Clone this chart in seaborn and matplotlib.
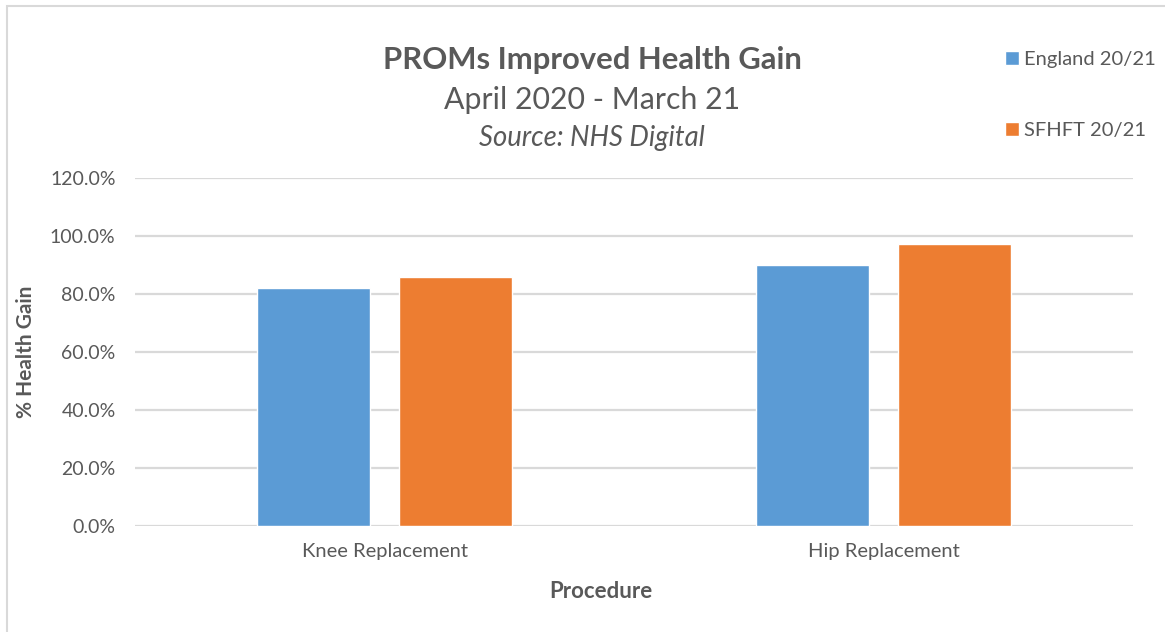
import matplotlib
matplotlib.use('Agg')
import matplotlib.pyplot as plt
from matplotlib.patches import Rectangle
from matplotlib.ticker import PercentFormatter
import pandas as pd
import seaborn as sns

# values (% health gain)
procedures = ["Knee Replacement", "Hip Replacement"]
series = ["England 20/21", "SFHFT 20/21"]
england = [82.0, 90.0]
sfhft = [86.0, 97.2]
colors = ["#5b9bd5", "#ed7d31"]

df = pd.DataFrame({
    "Procedure": procedures * 2,
    "Series": [series[0]] * 2 + [series[1]] * 2,
    "Gain": england + sfhft,
})

sns.set_style("white")
plt.rcParams['font.family'] = ['Lato', 'DejaVu Sans']
grey = "#595959"

fig = plt.figure(figsize=(11.65, 6.32), dpi=100)
ax = fig.add_axes([135 / 1165, 1 - 526 / 632, (1133 - 135) / 1165, (526 - 178) / 632])

sns.barplot(data=df, x="Procedure", y="Gain", hue="Series", order=procedures,
            hue_order=series, palette=colors, width=0.571, gap=0.207,
            saturation=1, ax=ax, legend=True)

ax.set_ylim(0, 120)
ax.set_yticks(range(0, 121, 20))
ax.yaxis.set_major_formatter(PercentFormatter(decimals=1))
ax.grid(axis='y', color="#d9d9d9", linewidth=1.6)
ax.set_axisbelow(True)
for s in ax.spines.values():
    s.set_visible(False)
ax.tick_params(axis='both', length=0, labelsize=14, colors=grey, pad=14)
ax.tick_params(axis='x', labelsize=14.5, pad=12)

ax.set_xlabel("")
ax.set_ylabel("% Health Gain", fontsize=15, fontweight='bold', color=grey, labelpad=10)
fig.text(601 / 1165, 1 - 592 / 632, "Procedure", ha='center', va='center',
         fontsize=16, fontweight='bold', color=grey)

# legend in the top right, widely spaced like the original
handles, labels = ax.get_legend_handles_labels()
ax.legend(handles, labels, loc='upper left', bbox_to_anchor=(987 / 1165, 1 - 33 / 632),
          bbox_transform=fig.transFigure, frameon=False, fontsize=14.5,
          labelcolor=grey, labelspacing=2.65, handlelength=0.7, handleheight=0.7,
          handletextpad=0.25)

fig.text(592 / 1165, 1 - 60 / 632, "PROMs Improved Health Gain", ha='center', va='center',
         fontsize=22.3, fontweight='bold', color=grey)
fig.text(592 / 1165, 1 - 100 / 632, "April 2020 - March 21", ha='center', va='center',
         fontsize=21.8, color=grey)
fig.text(592 / 1165, 1 - 138 / 632, "Source: NHS Digital", ha='center', va='center',
         fontsize=19.8, style='italic', color=grey)

# thin chart-area border
fig.patches.append(Rectangle((7 / 1165, -0.01), 1.0, 1 - 6 / 632 + 0.01,
                             transform=fig.transFigure, fill=False,
                             edgecolor="#d9d9d9", linewidth=1.5))

fig.savefig("out.png", dpi=100)
